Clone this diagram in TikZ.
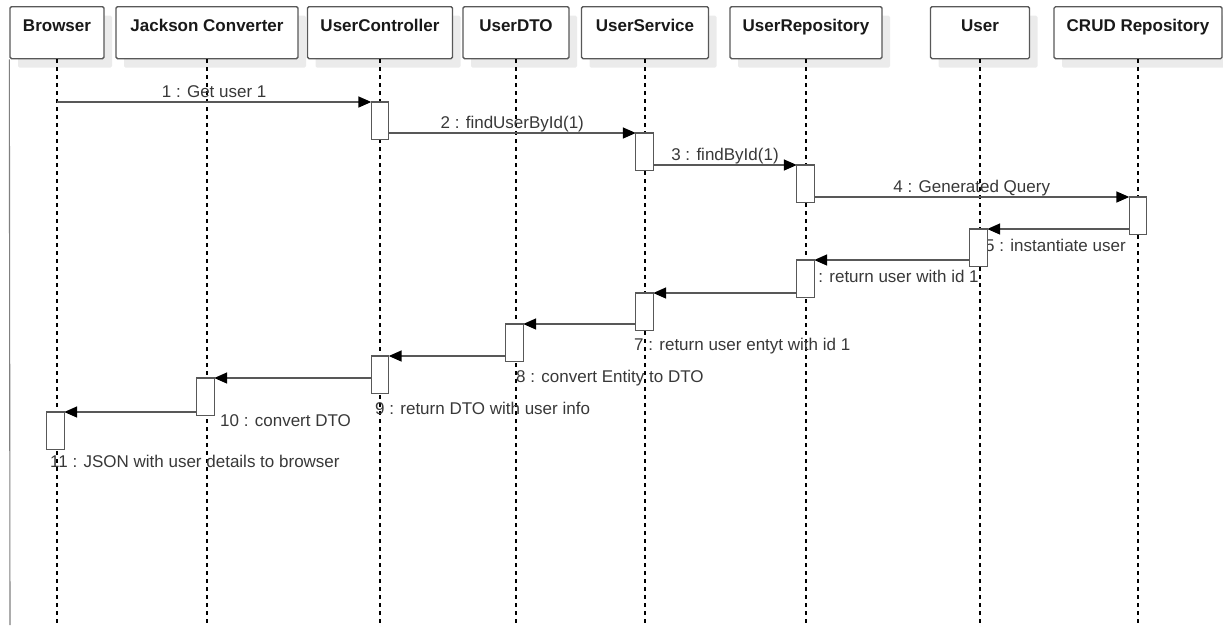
\documentclass[tikz,border=0pt]{standalone}
\usepackage{fontspec}
\setmainfont{Liberation Sans}
\usetikzlibrary{arrows.meta, shadows}

\definecolor{edge}{HTML}{585858}
\definecolor{msgtext}{HTML}{383838}
\definecolor{shade}{HTML}{EBEBEB}
\definecolor{frameline}{HTML}{808080}

\begin{document}
\begin{tikzpicture}[x=1pt, y=-1pt,
  hdr/.style={draw=edge, line width=1.3pt, fill=white, rounded corners=1.5pt,
    inner xsep=0pt, inner ysep=0pt, text height=24.5pt, text depth=27.5pt,
    anchor=north, font=\fontsize{17}{20}\selectfont\bfseries, text=black!90,
    drop shadow={shadow xshift=8pt, shadow yshift=-9pt, fill=shade, opacity=1}},
  act/.style={minimum width=17pt, minimum height=37pt, inner sep=0pt, anchor=north},
  actbox/.style={draw=edge, line width=1.3pt, fill=white},
  life/.style={draw=black, line width=1.2pt, dash pattern=on 4pt off 4pt},
  msg/.style={draw=edge, line width=1.6pt, -{Triangle[length=13pt, width=11pt, black]}},
  lbl/.style={font=\fontsize{17}{20}\selectfont, text=msgtext, inner sep=0pt, anchor=base},
  rlbl/.style={lbl, anchor=base west},
]
\useasboundingbox (0,0) rectangle (1223,625);

% participant heads
\node[hdr, minimum width=94pt]  (browser) at (57,6)   {Browser};
\node[hdr, minimum width=182pt] (jackson) at (207,6)  {Jackson Converter};
\node[hdr, minimum width=145pt] (ctrl)    at (380,6)  {UserController};
\node[hdr, minimum width=106pt] (dto)     at (516,6)  {UserDTO};
\node[hdr, minimum width=127pt] (svc)     at (645,6)  {UserService};
\node[hdr, minimum width=152pt] (repo)    at (806,6)  {UserRepository};
\node[hdr, minimum width=99pt]  (user)    at (980,6)  {User};
\node[hdr, minimum width=168pt] (crud)    at (1138,6) {CRUD Repository};

% lifeline ends
\coordinate (browserEnd) at (57,625);
\coordinate (jacksonEnd) at (207,625);
\coordinate (ctrlEnd)    at (380,625);
\coordinate (dtoEnd)     at (516,625);
\coordinate (svcEnd)     at (645,625);
\coordinate (repoEnd)    at (806,625);
\coordinate (userEnd)    at (980,625);
\coordinate (crudEnd)    at (1138,625);
\coordinate (frameEnd)   at (10,625);

% left frame edge
\draw[frameline, line width=1.1pt] (browser.south west) -- (frameEnd);

% lifelines
\foreach \p in {browser,jackson,ctrl,dto,svc,repo,user,crud}
  \draw[life] (\p.south) -- (\p End);

% activation bar positions
\path
  (380,102)   node[act] (a1)  {}
  (644.5,133) node[act] (a2)  {}
  (805.5,165) node[act] (a3)  {}
  (1138,197)  node[act] (a4)  {}
  (978.5,229) node[act] (a5)  {}
  (805.5,260) node[act] (a6)  {}
  (644.5,293) node[act] (a7)  {}
  (514.5,324) node[act] (a8)  {}
  (380,356)   node[act] (a9)  {}
  (205.5,378) node[act] (a10) {}
  (55.5,412)  node[act] (a11) {};

% return message labels
\node[rlbl] (l5)  at (985,251)  {5 : instantiate user};
\node[rlbl] (l6)  at (804,282)  {6 : return user with id 1};
\node[rlbl] (l7)  at (634,350)  {7 : return user entyt with id 1};
\node[rlbl] (l8)  at (516,382)  {8 : convert Entity to DTO};
\node[rlbl] (l9)  at (375,414)  {9 : return DTO with user info};
\node[rlbl] (l10) at (220,426)  {10 : convert DTO};
\node[rlbl] (l11) at (50,467)   {11 : JSON with user details to browser};

% calls
\draw[msg] (browser.south |- a1.north) -- (a1.north west)
  node[lbl, midway, yshift=5pt] {1 : Get user 1};
\draw[msg] (a1.east |- a2.north) -- (a2.north west)
  node[lbl, midway, yshift=4.5pt] {2 : findUserById(1)};
\draw[msg] (a2.east |- a3.north) -- (a3.north west)
  node[lbl, midway, yshift=4.5pt] {3 : findById(1)};
\draw[msg] (a3.east |- a4.north) -- (a4.north west)
  node[lbl, midway, yshift=5pt] {4 : Generated Query};

% returns
\draw[msg] (a4.west |- a5.north) -- (a5.north east);
\draw[msg] (a5.west |- a6.north) -- (a6.north east);
\draw[msg] (a6.west |- a7.north) -- (a7.north east);
\draw[msg] (a7.west |- a8.north) -- (a8.north east);
\draw[msg] (a8.west |- a9.north) -- (a9.north east);
\draw[msg] (a9.west |- a10.north) -- (a10.north east);
\draw[msg] (a10.west |- a11.north) -- (a11.north east);

% activation bars drawn on top
\foreach \a in {a1,a2,a3,a4,a5,a6,a7,a8,a9,a10,a11}
  \draw[actbox] (\a.north west) rectangle (\a.south east);

\end{tikzpicture}
\end{document}
